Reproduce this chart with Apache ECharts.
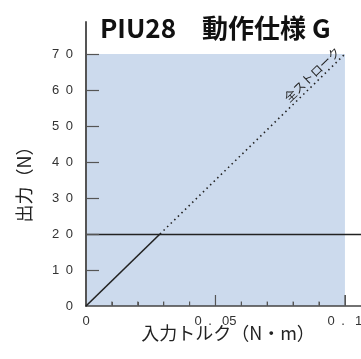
<!DOCTYPE html>
<html>
<head>
<meta charset="utf-8">
<script src="https://cdn.jsdelivr.net/npm/echarts@6/dist/echarts.min.js"></script>
<style>
  html, body { margin: 0; padding: 0; background: #fff; }
  #chart { width: 361px; height: 359px; }
</style>
</head>
<body>
<div id="chart"></div>
<script>
// 動作仕様データ
const strokeLine = [[0, 0], [0.02857, 20]];       // 実線部
const fullStroke = [[0.02857, 20], [0.1, 70]];    // 全ストローク（点線）
const outputLimit = 20;                           // 出力の水平線
const xLabels = [0, 0.05, 0.1];
const xTickValues = [0.01, 0.02, 0.03, 0.04, 0.05, 0.06, 0.07, 0.08, 0.09, 0.1];
const xMajorTicks = [0.05, 0.1];
const xMinorTicks = [0.01, 0.02, 0.03, 0.04, 0.06, 0.07, 0.08, 0.09];
const yTicks = [0, 10, 20, 30, 40, 50, 60, 70];
const plotArea = [[0, 0], [0.1, 70]];

const chart = echarts.init(document.getElementById('chart'));

const labelFont = '"Liberation Sans", Arial, sans-serif';
const jpFont = '"Noto Sans CJK JP", sans-serif';

// 数字の間を空ける（元図の表記に合わせる）
function spaced(v) {
    if (v === 0) return '0';
    const s = String(v);
    if (s.indexOf('.') < 0) return s.split('').join('\u2002');
    const parts = s.split('.');
    return parts[0] + '\u2002.\u2002 ' + parts[1];
}

chart.setOption({
    animation: false,
    title: {
        text: 'PIU28　動作仕様 G',
        left: 95,
        top: 10,
        textStyle: {
            fontFamily: jpFont,
            fontSize: 26,
            fontWeight: 'bold',
            color: '#111'
        }
    },
    grid: {
        left: 86,
        right: 0,
        top: 22,
        bottom: 53,
        outerBoundsMode: 'none'
    },
    xAxis: [
        {
            type: 'value',
            min: 0,
            max: 0.1062,
            interval: 0.05,
            z: 10,
            splitLine: { show: false },
            axisLine: { lineStyle: { color: '#444', width: 1.5 } },
            axisTick: {
                show: true,
                inside: true,
                length: 11,
                customValues: xMajorTicks,
                lineStyle: { color: '#555' }
            },
            axisLabel: {
                customValues: xLabels,
                margin: 9,
                fontFamily: labelFont,
                fontSize: 13,
                color: '#333',
                formatter: spaced
            },
            name: '入力トルク（N・m）',
            nameLocation: 'middle',
            nameGap: 18,
            nameMoveOverlap: false,
            nameTextStyle: {
                fontFamily: jpFont,
                fontSize: 18,
                color: '#222',
                padding: [0, 0, 0, 9]
            }
        },
        {
            type: 'value',
            min: 0,
            max: 0.1062,
            position: 'bottom',
            z: 10,
            splitLine: { show: false },
            axisLine: { show: true, onZero: false, lineStyle: { opacity: 0 } },
            axisLabel: { show: false },
            axisTick: {
                show: true,
                inside: true,
                length: 4,
                customValues: xMinorTicks,
                lineStyle: { color: '#555' }
            }
        }
    ],
    yAxis: {
        type: 'value',
        min: 0,
        max: 78.9,
        interval: 10,
        z: 10,
        splitLine: { show: false },
        axisLine: { lineStyle: { color: '#555', width: 2 } },
        axisTick: {
            inside: true,
            length: 13,
            customValues: yTicks.slice(1),
            lineStyle: { color: '#555', width: 1.2 }
        },
        axisLabel: {
            customValues: yTicks,
            margin: 13,
            fontFamily: labelFont,
            fontSize: 13,
            color: '#333',
            formatter: spaced
        },
        name: '出力（N）',
        nameLocation: 'middle',
        nameGap: 53,
        nameMoveOverlap: false,
        nameTextStyle: {
            fontFamily: jpFont,
            fontSize: 18,
            color: '#222',
            padding: [0, 32, 0, 0]
        }
    },
    series: [
        {
            type: 'line',
            data: strokeLine,
            symbol: 'none',
            z: 12,
            lineStyle: { color: '#222', width: 1.6 },
            markArea: {
                silent: true,
                z: 1,
                itemStyle: { color: '#ccdaed' },
                data: [[
                    { coord: plotArea[0] },
                    { coord: plotArea[1] }
                ]]
            },
            markLine: {
                silent: true,
                symbol: 'none',
                label: { show: false },
                lineStyle: { color: '#222', width: 1.3, type: 'solid' },
                data: [{ yAxis: outputLimit }]
            }
        },
        {
            type: 'line',
            data: fullStroke.map(function (p, i) {
                if (i !== fullStroke.length - 1) return p;
                return {
                    value: p,
                    label: {
                        show: true,
                        position: 'inside',
                        formatter: '全ストローク',
                        rotate: 44,
                        align: 'right',
                        verticalAlign: 'bottom',
                        padding: [0, 2, 2, 0],
                        fontFamily: jpFont,
                        fontSize: 12,
                        color: '#222'
                    }
                };
            }),
            symbol: 'circle',
            symbolSize: 0,
            showSymbol: true,
            z: 12,
            lineStyle: { color: '#222', width: 1.6, type: [1.5, 3.5] }
        },
        {
            // x軸の目盛り（内向き）
            type: 'custom',
            silent: true,
            clip: false,
            zlevel: 1,
            z: 100,
            data: xTickValues.map(function (v) { return [v, 0]; }),
            renderItem: function (params, api) {
                const v = api.value(0);
                const p = api.coord([v, 0]);
                const major = xMajorTicks.some(function (m) { return Math.abs(m - v) < 1e-9; });
                return {
                    type: 'line',
                    shape: { x1: p[0], y1: p[1] - 0.5, x2: p[0], y2: p[1] - (major ? 11 : 4.5) },
                    style: { stroke: '#555', lineWidth: 1.2 }
                };
            }
        }
    ]
});
</script>
</body>
</html>
